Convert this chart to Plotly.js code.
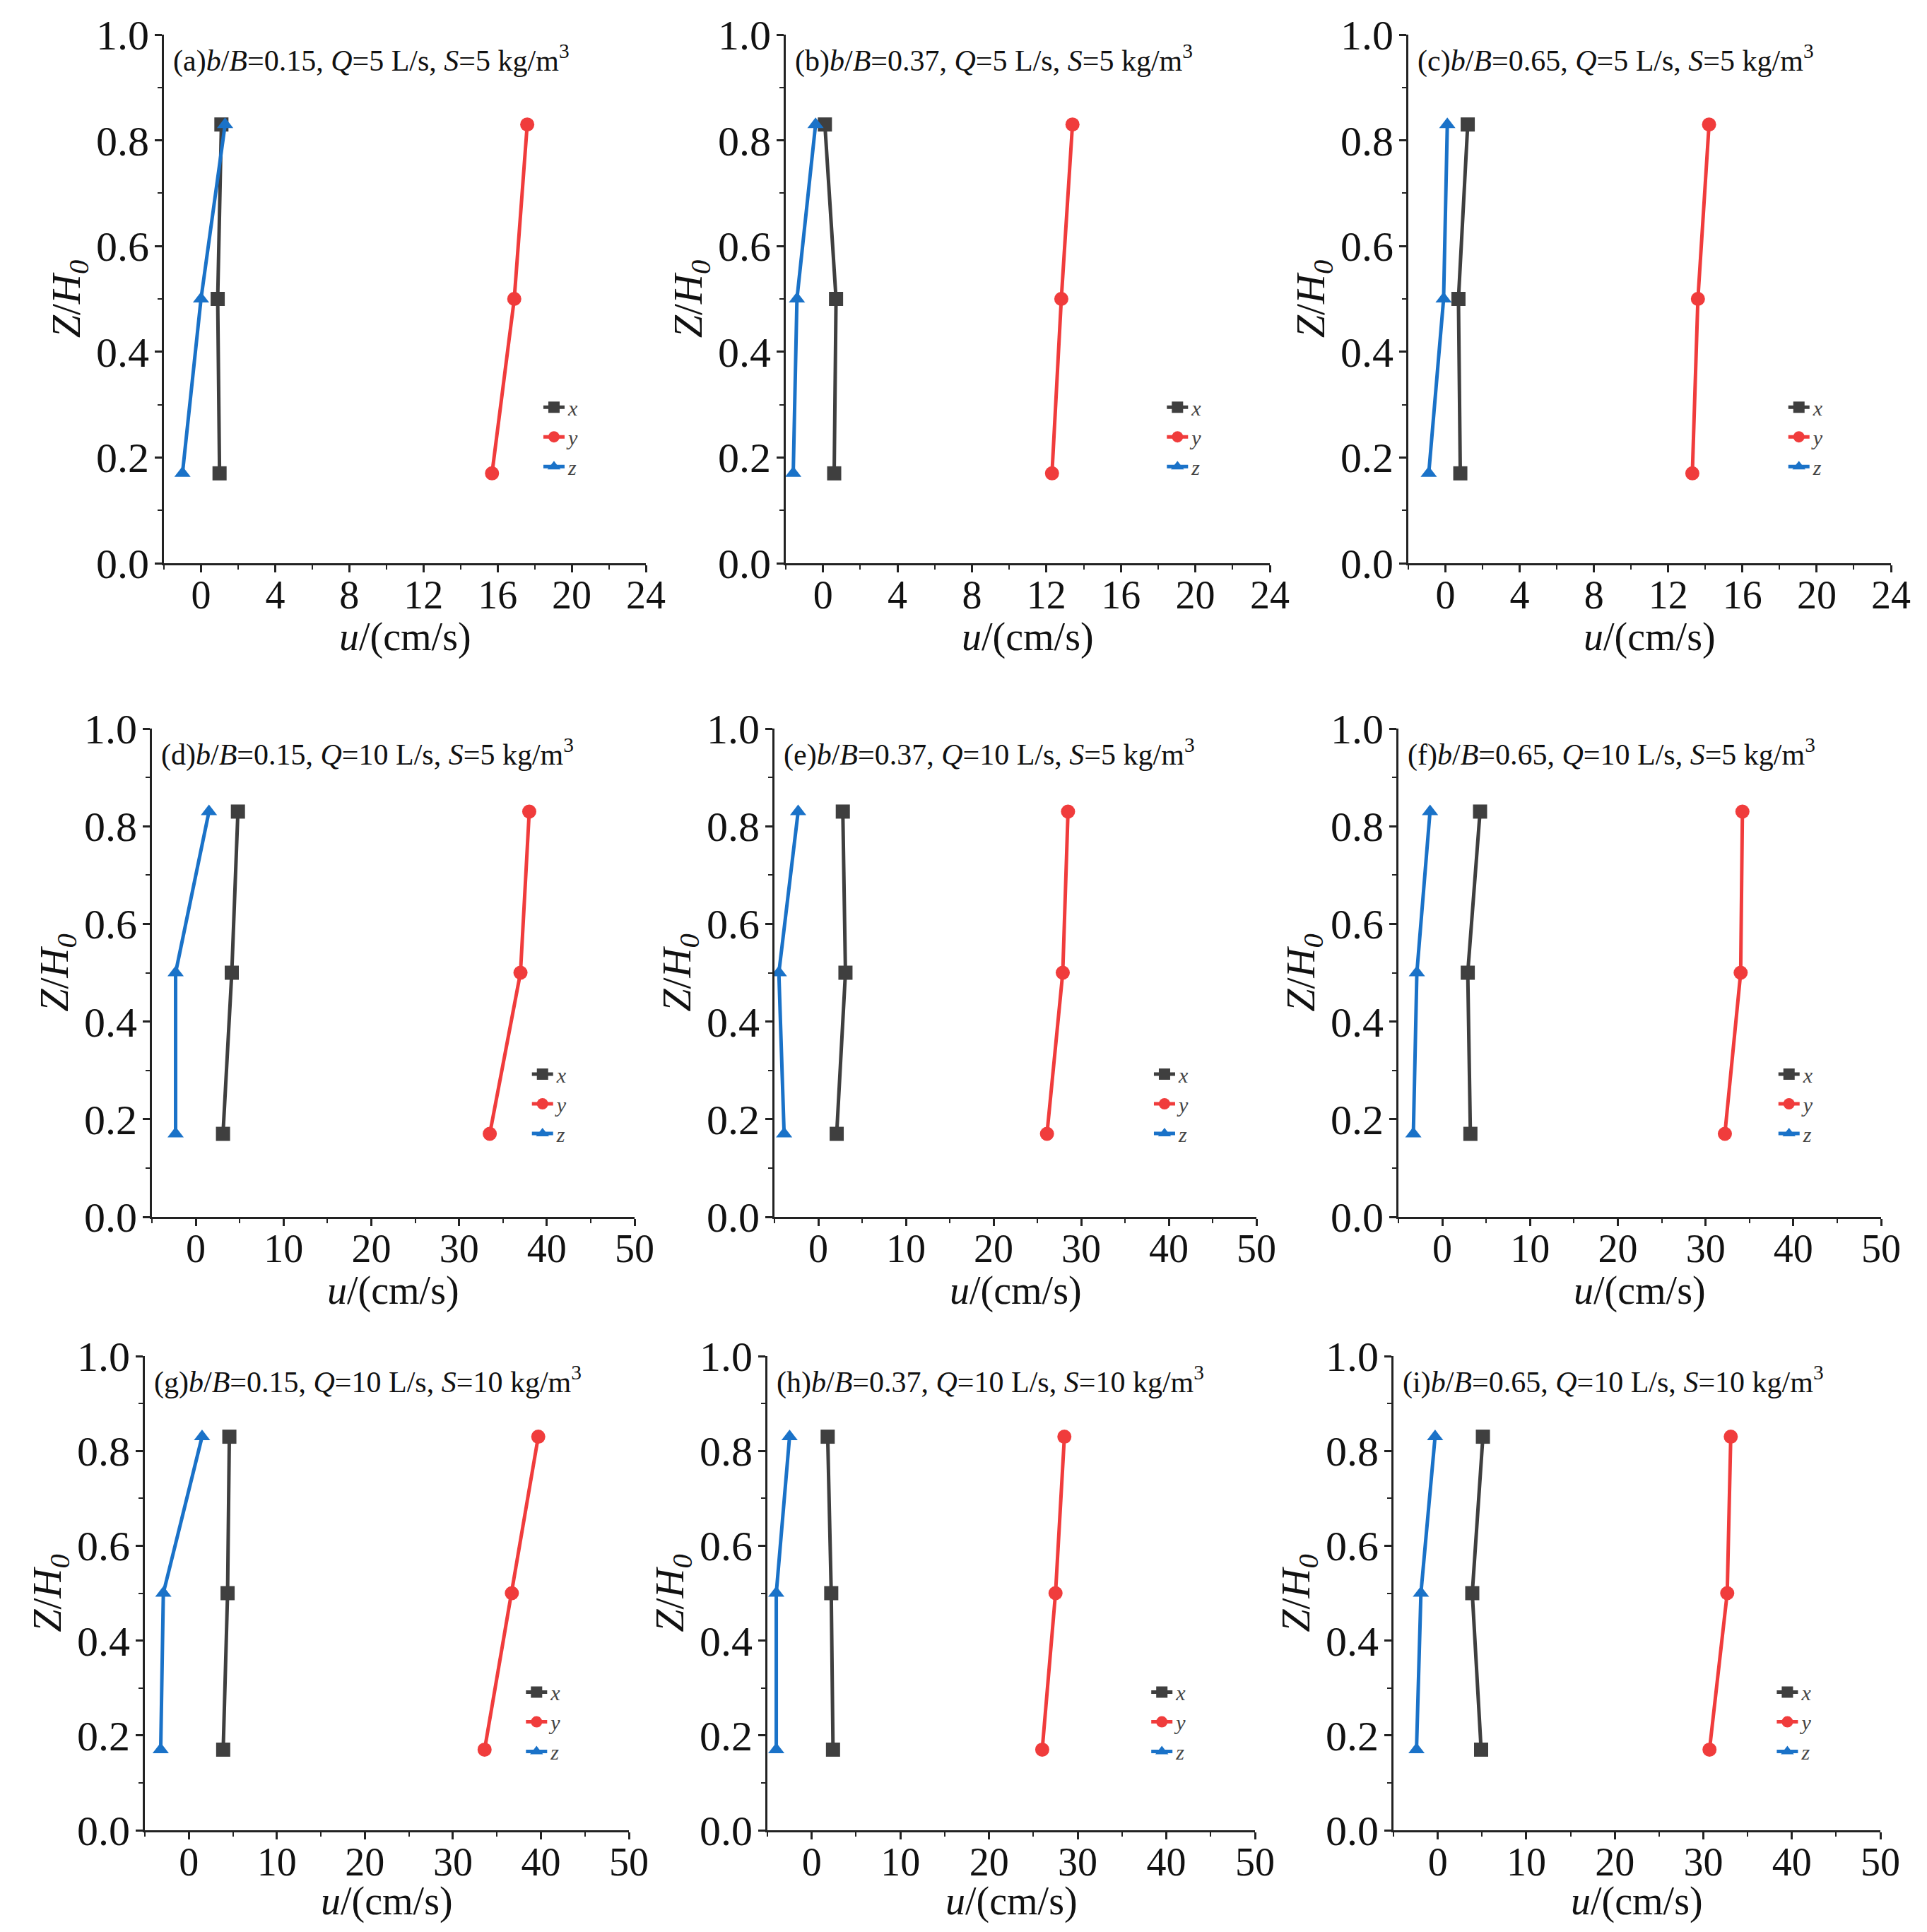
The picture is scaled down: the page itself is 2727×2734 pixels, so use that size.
<!DOCTYPE html>
<html>
<head>
<meta charset="utf-8">
<script src="https://cdn.plot.ly/plotly-3.0.1.min.js"></script>
<style>html,body{margin:0;padding:0;background:#fff}#chart{width:2727px;height:2734px}</style>
</head>
<body>
<div id="chart"></div>
<script>
// Relative heights Z/H0
const alturas = [0.17, 0.5, 0.83];

// Panel labels
const etiquetas = [
    "(a)<i>b</i>/<i>B</i>=0.15, <i>Q</i>=5 L/s, <i>S</i>=5 kg/m<sup>3</sup>",
    "(b)<i>b</i>/<i>B</i>=0.37, <i>Q</i>=5 L/s, <i>S</i>=5 kg/m<sup>3</sup>",
    "(c)<i>b</i>/<i>B</i>=0.65, <i>Q</i>=5 L/s, <i>S</i>=5 kg/m<sup>3</sup>",
    "(d)<i>b</i>/<i>B</i>=0.15, <i>Q</i>=10 L/s, <i>S</i>=5 kg/m<sup>3</sup>",
    "(e)<i>b</i>/<i>B</i>=0.37, <i>Q</i>=10 L/s, <i>S</i>=5 kg/m<sup>3</sup>",
    "(f)<i>b</i>/<i>B</i>=0.65, <i>Q</i>=10 L/s, <i>S</i>=5 kg/m<sup>3</sup>",
    "(g)<i>b</i>/<i>B</i>=0.15, <i>Q</i>=10 L/s, <i>S</i>=10 kg/m<sup>3</sup>",
    "(h)<i>b</i>/<i>B</i>=0.37, <i>Q</i>=10 L/s, <i>S</i>=10 kg/m<sup>3</sup>",
    "(i)<i>b</i>/<i>B</i>=0.65, <i>Q</i>=10 L/s, <i>S</i>=10 kg/m<sup>3</sup>"
];

// Velocity components (cm/s) per panel
const velX = [
    [1.0, 0.9, 1.1], [0.6, 0.7, 0.1], [0.8, 0.7, 1.2],
    [3.1, 4.1, 4.8], [2.1, 3.1, 2.8], [3.2, 2.9, 4.3],
    [3.9, 4.4, 4.6], [2.4, 2.2, 1.8], [4.9, 3.9, 5.1]
];
const velY = [
    [15.7, 16.9, 17.6], [12.3, 12.8, 13.4], [13.3, 13.6, 14.2],
    [33.5, 37.0, 38.0], [26.1, 27.9, 28.5], [32.2, 34.0, 34.2],
    [33.6, 36.7, 39.7], [26.0, 27.5, 28.5], [30.7, 32.7, 33.1]
];
const velZ = [
    [-1.0, 0.0, 1.3], [-1.6, -1.4, -0.4], [-0.9, -0.1, 0.1],
    [-2.3, -2.3, 1.5], [-3.9, -4.5, -2.3], [-3.3, -2.9, -1.4],
    [-3.2, -2.9, 1.5], [-4.0, -4.0, -2.5], [-2.4, -1.9, -0.3]
];

// Axis ranges per row
const rangoX = [[-2, 24], [-5, 50], [-5, 50]];
const ticksX = [4, 10, 10];

// Plot areas in pixels [x0, x1] per column, [y0, y1] per row (top-down)
const W = 2727, H = 2734;
const colPx = [[[232, 914], [1112, 1797], [1993, 2676]],
               [[215, 898], [1096, 1778], [1979, 2662]],
               [[205, 890], [1086, 1776], [1972, 2661]]];
const rowPx = [[49, 797], [1031, 1722], [1919, 2590]];
const tituloOffset = [104, 104, 100];

const series = [
    { name: "x", color: "#3f3f3f", symbol: "square", datos: velX },
    { name: "y", color: "#f03c3c", symbol: "circle", datos: velY },
    { name: "z", color: "#1a72c8", symbol: "triangle-up", datos: velZ }
];

const FUENTE = "Liberation Serif, Times New Roman, serif";

const trazas = [];
const layout = {
    width: W, height: H,
    margin: { l: 0, r: 0, t: 0, b: 0 },
    paper_bgcolor: "#fff", plot_bgcolor: "#fff",
    font: { family: FUENTE, color: "#111" },
    annotations: []
};

for (let p = 0; p < 9; p++) {
    const fila = Math.floor(p / 3), col = p % 3;
    const n = p + 1;
    const xa = "x" + (n === 1 ? "" : n), ya = "y" + (n === 1 ? "" : n);
    const leg = "legend" + (n === 1 ? "" : n);
    const [px0, px1] = colPx[fila][col];
    const [py0, py1] = rowPx[fila];
    const dx = [px0 / W, px1 / W];
    const dy = [1 - py1 / H, 1 - py0 / H];

    for (const s of series) {
        trazas.push({
            type: "scatter", mode: "lines+markers",
            x: s.datos[p], y: alturas, name: s.name,
            xaxis: xa, yaxis: ya, legend: leg,
            line: { color: s.color, width: 5 },
            marker: { color: s.color, symbol: s.symbol, size: 20 }
        });
    }

    const ejeComun = {
        showgrid: false, zeroline: false, showline: true,
        linecolor: "#222", linewidth: 3,
        ticks: "outside", ticklen: 10, tickwidth: 3, tickcolor: "#222",
        tickfont: { size: 56, family: FUENTE, color: "#111" },
        minor: { ticks: "outside", ticklen: 6, tickwidth: 2, tickcolor: "#222" }
    };
    layout["xaxis" + (n === 1 ? "" : n)] = Object.assign({}, ejeComun, {
        domain: dx, anchor: ya, range: rangoX[fila], dtick: ticksX[fila], tick0: 0,
        ticklabelstandoff: -16,
        minor: Object.assign({}, ejeComun.minor, { dtick: ticksX[fila] / 2 })
    });
    layout["yaxis" + (n === 1 ? "" : n)] = Object.assign({}, ejeComun, {
        domain: dy, anchor: xa, range: [0, 1], dtick: 0.2, tickformat: ".1f",
        ticklabelstandoff: -4,
        tickfont: { size: 60, family: FUENTE, color: "#111" },
        minor: Object.assign({}, ejeComun.minor, { dtick: 0.1 }),
        title: { text: "<i>Z</i>/<i>H</i><sub><i>0</i></sub>", font: { size: 58, family: FUENTE }, standoff: 4 }
    });
    layout[leg] = {
        x: dx[0] + (dx[1] - dx[0]) * 0.78, y: dy[0] + (dy[1] - dy[0]) * 0.33,
        xanchor: "left", yanchor: "top",
        bgcolor: "rgba(0,0,0,0)", itemwidth: 30, tracegroupgap: 0,
        font: { size: 30, family: FUENTE, style: "italic", color: "#444" }
    };
    layout.annotations.push({
        xref: "paper", yref: "paper",
        x: dx[0] + 0.004, y: dy[1] - 0.002, xanchor: "left", yanchor: "top",
        text: etiquetas[p], showarrow: false,
        font: { size: 42, family: FUENTE, color: "#111" }
    });
    // x-axis title as annotation, placed below the tick labels
    layout.annotations.push({
        xref: "paper", yref: "paper",
        x: (dx[0] + dx[1]) / 2, y: 1 - (py1 + tituloOffset[fila]) / H,
        xanchor: "center", yanchor: "middle",
        text: "<i>u</i>/(cm/s)", showarrow: false,
        font: { size: 56, family: FUENTE, color: "#111" }
    });
}

Plotly.newPlot("chart", trazas, layout, { staticPlot: true });
</script>
</body>
</html>
